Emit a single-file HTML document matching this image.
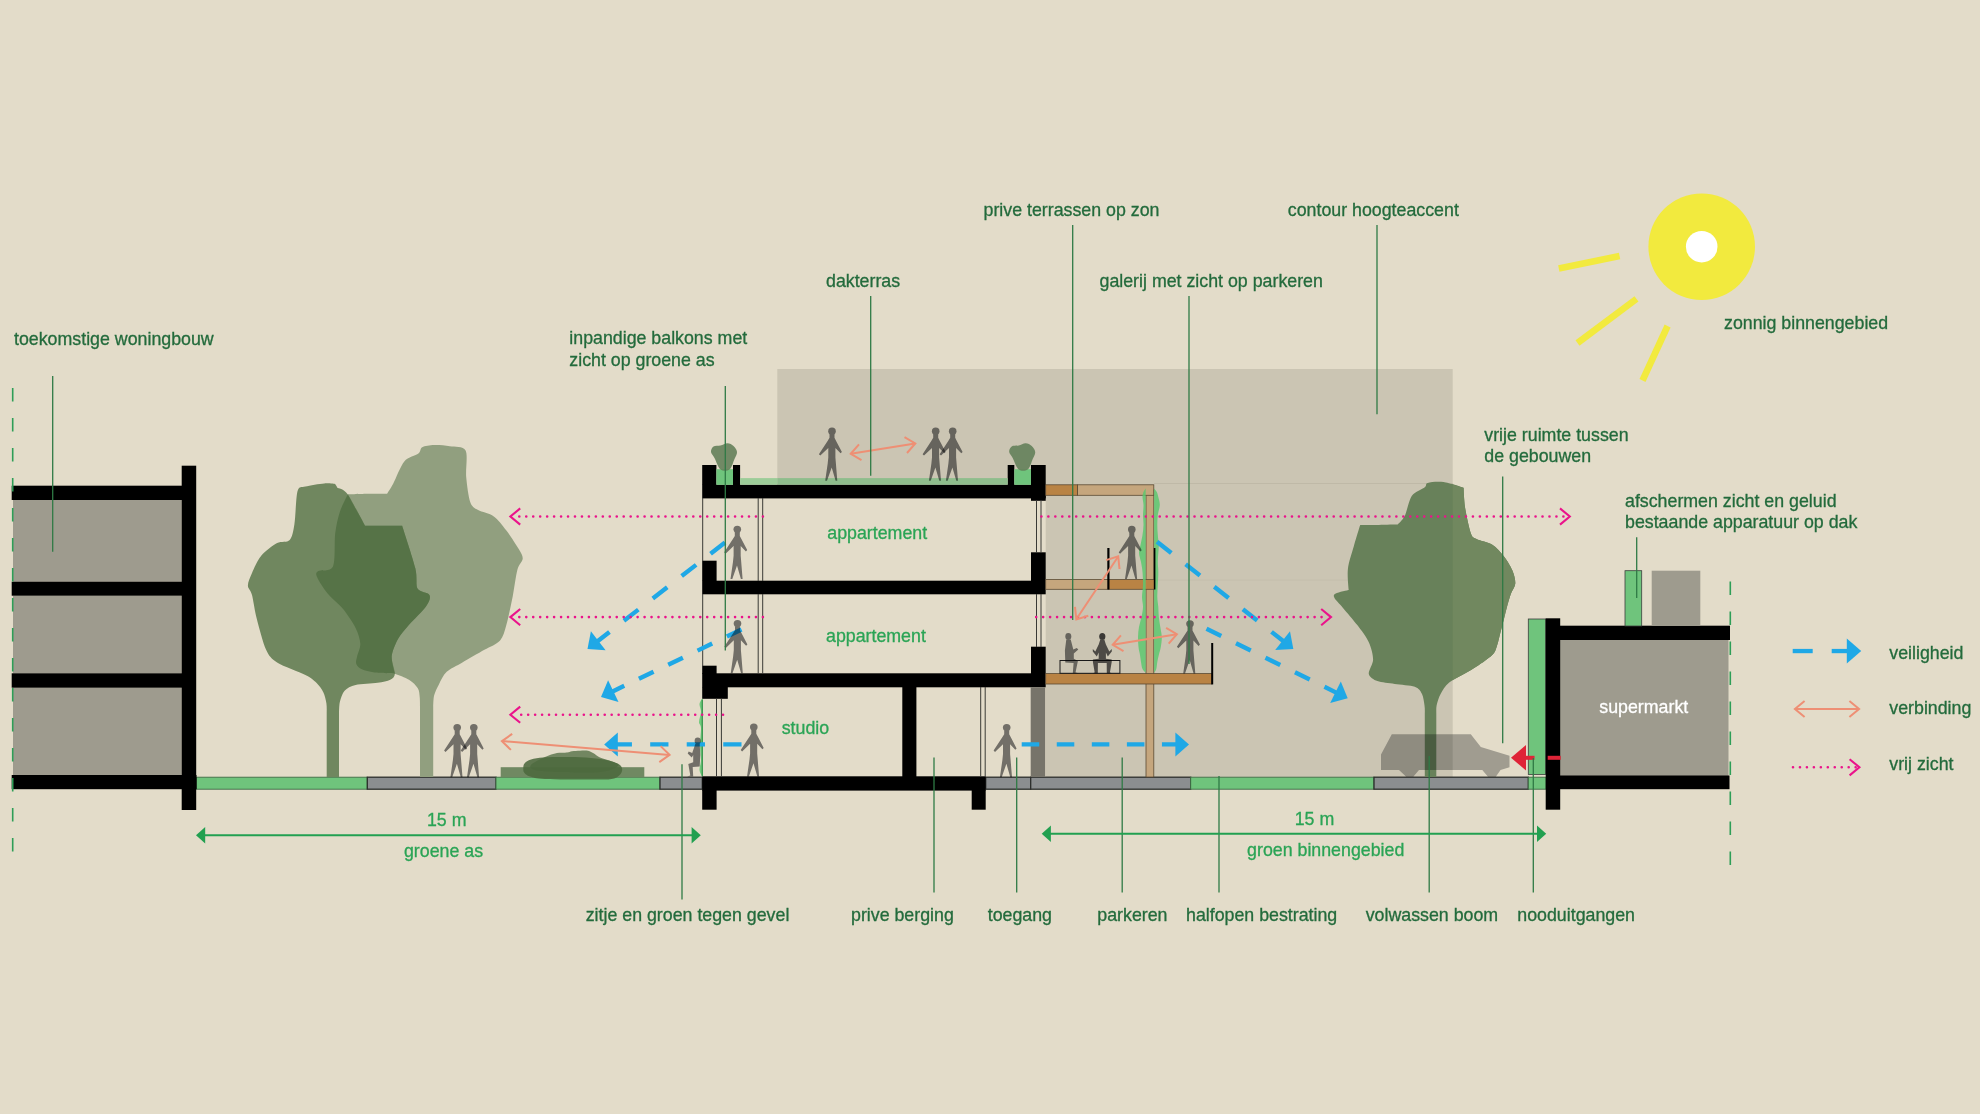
<!DOCTYPE html>
<html><head><meta charset="utf-8"><title>doorsnede</title>
<style>html,body{margin:0;padding:0;background:#e3dcc9;}body{width:1980px;height:1114px;overflow:hidden;}svg{display:block;}text{font-family:"Liberation Sans",sans-serif;}</style></head><body>
<svg width="1980" height="1114" viewBox="0 0 1980 1114">
<rect x="0" y="0" width="1980" height="1114" fill="#e3dcc9" />
<rect x="777.3" y="369" width="675.4" height="408" fill="#cbc5b3" />
<line x1="1154" y1="483.5" x2="1452.7" y2="483.5" stroke="#bfb9a7" stroke-width="1" />
<line x1="1154" y1="580" x2="1452.7" y2="580" stroke="#c4beac" stroke-width="1" />
<rect x="702.3" y="498" width="343.4" height="279" fill="#e3dcc9" />
<rect x="196.5" y="777.2" width="170.8" height="12" fill="#6fc47c" stroke="#3f6b45" stroke-width="0.9"/>
<rect x="367.3" y="777.2" width="128.7" height="12" fill="#8b8e90" stroke="#2c2e2c" stroke-width="1.3"/>
<rect x="496" y="777.2" width="164" height="12" fill="#6fc47c" stroke="#3f6b45" stroke-width="0.9"/>
<rect x="660" y="777.2" width="42.3" height="12" fill="#8b8e90" stroke="#2c2e2c" stroke-width="1.3"/>
<rect x="985.7" y="777.2" width="45" height="12" fill="#8b8e90" stroke="#2c2e2c" stroke-width="1.3"/>
<rect x="1030.7" y="777.2" width="160" height="12" fill="#8b8e90" stroke="#2c2e2c" stroke-width="1.3"/>
<rect x="1190.7" y="777.2" width="183.3" height="12" fill="#6fc47c" stroke="#3f6b45" stroke-width="0.9"/>
<rect x="1374" y="777.2" width="154.3" height="12" fill="#8b8e90" stroke="#2c2e2c" stroke-width="1.3"/>
<rect x="1528.3" y="777.2" width="17.7" height="12" fill="#6fc47c" stroke="#3f6b45" stroke-width="0.9"/>
<rect x="13" y="500" width="168.7" height="81.7" fill="#9e9b8e" />
<rect x="13" y="595.7" width="168.7" height="77.6" fill="#9e9b8e" />
<rect x="13" y="687.7" width="168.7" height="87.3" fill="#9e9b8e" />
<rect x="11.7" y="485.7" width="170.3" height="14.3" fill="#000000" />
<rect x="11.7" y="581.7" width="170.3" height="14" fill="#000000" />
<rect x="11.7" y="673.3" width="170.3" height="14.4" fill="#000000" />
<rect x="11.7" y="775" width="184.8" height="14.2" fill="#000000" />
<rect x="181.7" y="465.7" width="14.5" height="344.3" fill="#000000" />
<line x1="12.7" y1="388" x2="12.7" y2="858.5" stroke="#2e9e57" stroke-width="1.6" stroke-dasharray="13.5 16.5"/>
<line x1="1730.3" y1="581.5" x2="1730.3" y2="867" stroke="#2e9e57" stroke-width="1.6" stroke-dasharray="13.5 16.5"/>
<path d="M420,777 L420,706.4 C420,705 420,699.7 419.7,697 C419.4,694.2 419.4,690.8 417.8,688.2 C416.2,685.6 412.7,681.9 409,679.7 C405.3,677.5 398.5,674.5 393.3,673.4 C388.1,672.3 379.2,673.1 374.5,672.5 C369.8,671.8 364.6,670.6 361.9,669.3 C359.2,668 357,666 356.3,664 C355.5,662 356.6,659.2 357.2,656.1 C357.8,653.1 360.6,647.8 360.3,643.6 C360.1,639.3 358.2,633 355.6,627.9 C353,622.7 347.3,614.2 343.1,609 C338.8,603.8 331.2,598 327.4,593.3 C323.5,588.6 318.7,580.9 317.3,577.6 C315.9,574.3 315.6,573 317.9,571.3 C320.3,569.7 330.4,572.3 333,566.6 C335.6,561 334.2,541.9 335.2,533.6 C336.2,525.4 338,517.5 339.9,511.7 C341.8,505.8 347.8,494.4 347.8,494.4 C347.8,494.4 362.3,493.9 368.2,493.8 C374.1,493.7 387,493.8 387,493.8 C387,493.8 390.7,488.2 393.3,483.4 C395.9,478.5 400.5,465.9 404.3,461.4 C408.1,456.9 415.8,455.7 418.4,453.6 C421.1,451.4 419.9,448.5 422.2,447.3 C424.6,446 430,445.2 434.1,445.1 C438.3,444.9 445.1,445.5 449.8,446.3 C454.6,447.1 463.1,445.8 465.6,450.4 C468,455 465.5,469.3 466.2,477.1 C466.9,484.9 468.5,497.3 470.3,502.2 C472.1,507.2 474.6,508 478.1,510.1 C481.6,512.2 489.6,513.3 493.8,516.4 C498.1,519.4 502.6,525.6 506.4,530.5 C510.2,535.4 516.5,545.1 518.9,549.3 C521.4,553.6 522.9,555.7 522.7,558.8 C522.5,561.8 518.9,564.1 517.4,569.8 C515.9,575.4 514.3,588.2 512.7,596.5 C511,604.7 508.3,618.1 506.4,624.7 C504.5,631.3 503.4,636.7 500.1,640.4 C496.8,644.2 490.1,646.6 484.4,649.8 C478.7,653.1 468.1,659.1 462.4,662.4 C456.8,665.7 450.2,668.5 446.7,671.8 C443.2,675.1 440.7,680.9 438.9,684.4 C437,687.9 435,692.1 434.1,695.4 C433.3,698.7 433.3,704.7 433.2,706.4 L433.2,777Z" fill="#919f7f" />
<path d="M326.7,777 L326.7,712.7 C326.7,711.2 326.9,706.3 326.4,703.2 C325.9,700.2 324.8,695.3 323.3,692.2 C321.8,689.2 319.1,685.4 316.4,682.8 C313.7,680.2 311.3,678 305.4,675 C299.5,671.9 283,666.2 277.1,662.4 C271.2,658.6 269.2,656.4 266.1,649.8 C263.1,643.3 258.8,626.7 256.7,618.4 C254.6,610.2 253.3,599.8 252,594.9 C250.7,589.9 247.9,588.8 247.9,585.5 C247.9,582.2 250,577.4 252,572.9 C254,568.4 257.6,560.1 261.4,555.6 C265.2,551.2 272.9,545.4 277.1,543.1 C281.4,540.7 287.1,542.8 289.7,539.9 C292.3,537.1 293.2,531.5 294.4,524.2 C295.6,516.9 295.9,496.9 297.5,491.2 C299.2,485.6 301.4,487.7 305.4,486.5 C309.4,485.4 319.7,483.8 324.2,483.4 C328.7,483 335.2,484 335.2,484 C335.2,484 337.7,488.1 337.7,488.1 C337.7,488.1 343.7,488.7 347.8,494.4 C351.9,500 365.1,525.8 365.1,525.8 C365.1,525.8 378.3,525.8 383.9,525.8 C389.5,525.8 402.1,525.8 402.1,525.8 C402.1,525.8 413,558.8 415.3,568.2 C417.6,577.6 415.4,584.6 417.5,588.6 C419.6,592.6 428.1,592.3 429.4,594.9 C430.8,597.5 429.4,601.4 426.3,605.9 C423.2,610.4 413.3,619.8 409,624.7 C404.8,629.7 400.6,634.1 398,638.9 C395.4,643.6 392.2,650.9 391.7,656.1 C391.3,661.3 395.1,669.9 394.9,673.4 C394.7,676.9 392.8,678.3 390.2,679.7 C387.6,681.1 382.8,682 377.6,682.8 C372.4,683.6 360.6,683.8 355.6,685 C350.7,686.2 347,688.2 344.6,690.7 C342.3,693.2 340.8,698.4 339.9,701.7 C339.1,705 339.1,711 339,712.7 L339,777Z" fill="#70875f" />
<path d="M347.8,494.4 C347.8,494.4 365.1,525.8 365.1,525.8 C365.1,525.8 378.3,525.8 383.9,525.8 C389.5,525.8 402.1,525.8 402.1,525.8 C402.1,525.8 413,558.8 415.3,568.2 C417.6,577.6 415.4,584.6 417.5,588.6 C419.6,592.6 428.1,592.3 429.4,594.9 C430.8,597.5 429.4,601.4 426.3,605.9 C423.2,610.4 413.3,619.8 409,624.7 C404.8,629.7 400.6,634.1 398,638.9 C395.4,643.6 392.2,650.9 391.7,656.1 C391.3,661.3 394.9,673.4 394.9,673.4 C394.9,673.4 379.4,673.1 374.5,672.5 C369.5,671.8 364.6,670.6 361.9,669.3 C359.2,668 357,666 356.3,664 C355.5,662 356.6,659.2 357.2,656.1 C357.8,653.1 360.6,647.8 360.3,643.6 C360.1,639.3 358.2,633 355.6,627.9 C353,622.7 347.3,614.2 343.1,609 C338.8,603.8 331.2,598 327.4,593.3 C323.5,588.6 318.7,580.9 317.3,577.6 C315.9,574.3 315.6,573 317.9,571.3 C320.3,569.7 330.4,572.3 333,566.6 C335.6,561 334.2,541.9 335.2,533.6 C336.2,525.4 338,517.5 339.9,511.7 C341.8,505.8 347.8,494.4 347.8,494.4Z" fill="#567347"/>
<rect x="500.7" y="767.2" width="143.6" height="10.1" fill="#708962" />
<path d="M523.3,769 C523.3,767.4 523.2,765.1 524.5,763.5 C525.8,761.9 527.9,760.6 531,759.6 C534.1,758.6 538.8,758 543,757.6 C547.2,757.2 550.7,757.1 556,757 C561.3,756.9 568.3,756.8 575,757 C581.7,757.2 589.8,757.8 596,758.5 C602.2,759.2 607.9,760.3 612,761.5 C616.1,762.7 618.8,763.9 620.5,765.5 C622.2,767.1 622.4,769.2 622,771 C621.6,772.8 620,775.1 618,776.5 C616,777.9 614.7,778.8 610,779.3 C605.3,779.8 600.8,779.5 590,779.5 C579.2,779.5 555,779.5 545,779 C535,778.5 533.4,777.5 530,776.5 C526.6,775.5 525.6,774.2 524.5,773 C523.4,771.8 523.3,770.6 523.3,769Z" fill="#4c693e" opacity="0.88"/>
<path d="M531,765 C532.7,762.8 540.7,759 545,757 C549.3,755 553.3,753.7 557,753 C560.7,752.3 564.5,752.9 567,752.6 C569.5,752.3 569.8,751.5 572,751.2 C574.2,750.9 577.3,750.8 580,750.7 C582.7,750.6 585.7,750.3 588,750.8 C590.3,751.3 592,752.4 594,753.5 C596,754.6 597,756.2 600,757.5 C603,758.8 609,760.1 612,761.5 C615,762.9 620,764.2 618,766 C616,767.8 609.7,771 600,772 C590.3,773 570.8,772.3 560,772 C549.2,771.7 539.8,771.2 535,770 C530.2,768.8 529.3,767.2 531,765Z" fill="#4c693e" opacity="0.75"/>
<path d="M1424.8,777 L1424.8,714.1 C1424.8,712.8 1425,708.5 1424.5,705.5 C1424.1,702.5 1423.4,696.8 1422,694 C1420.5,691.2 1418.9,688.3 1414.8,686.8 C1410.7,685.3 1400.3,684.8 1394.7,684 C1389.1,683.1 1381.3,682.6 1377.4,681.1 C1373.6,679.6 1369.5,677.1 1368.8,673.9 C1368.2,670.7 1373.1,664.3 1373.1,659.5 C1373.1,654.8 1371.2,647.5 1368.8,642.3 C1366.5,637.1 1361.2,630.3 1357.3,625.1 C1353.5,619.9 1346.4,611.9 1343,607.9 C1339.5,603.8 1335.4,600 1334.4,597.8 C1333.3,595.6 1333.6,594.7 1335.8,593.5 C1337.9,592.3 1348.7,590 1348.7,590 C1348.7,590 1347.1,575.7 1347.9,569.1 C1348.6,562.5 1352,552.7 1353.9,546.1 C1355.7,539.5 1360.2,525.1 1360.2,525.1 C1360.2,525.1 1373.3,524.9 1378.9,524.9 C1384.5,524.8 1397.5,524.6 1397.5,524.6 C1397.5,524.6 1402.6,520.3 1404.7,516 C1406.9,511.6 1408.9,500.2 1411.9,495.8 C1414.9,491.5 1422.5,489.2 1424.8,487.2 C1427.2,485.3 1424.9,483.7 1427.7,482.9 C1430.5,482.1 1438.1,481.3 1443.5,482.1 C1448.9,482.8 1463.6,487.8 1463.6,487.8 C1463.6,487.8 1464,500.5 1465,507.3 C1466.1,514.1 1469.1,528.4 1470.8,533.2 C1472.5,537.9 1473.3,537.2 1476.5,538.9 C1479.8,540.6 1488.2,542.1 1492.3,544.7 C1496.4,547.3 1500.8,552.3 1503.8,556.2 C1506.8,560 1510.7,566.4 1512.4,570.5 C1514.1,574.6 1515.5,580 1515.3,583.4 C1515.1,586.9 1512.3,589.8 1511,593.5 C1509.7,597.2 1508.2,602.3 1506.7,607.9 C1505.2,613.5 1502.7,624.4 1500.9,630.8 C1499.2,637.3 1497.3,646.6 1495.2,650.9 C1493,655.2 1490.4,656.5 1486.6,659.5 C1482.7,662.6 1474.9,667.6 1469.3,671 C1463.7,674.5 1453.5,679.1 1449.2,682.5 C1444.9,686 1442.5,690.6 1440.6,694 C1438.7,697.5 1437.2,702.5 1436.6,705.5 C1436,708.5 1436.4,712.8 1436.3,714.1 L1436.3,777Z" fill="#68815a" />
<clipPath id="cl1"><rect x="1452.7" y="400" width="120" height="400"/></clipPath>
<path d="M1424.8,777 L1424.8,714.1 C1424.8,712.8 1425,708.5 1424.5,705.5 C1424.1,702.5 1423.4,696.8 1422,694 C1420.5,691.2 1418.9,688.3 1414.8,686.8 C1410.7,685.3 1400.3,684.8 1394.7,684 C1389.1,683.1 1381.3,682.6 1377.4,681.1 C1373.6,679.6 1369.5,677.1 1368.8,673.9 C1368.2,670.7 1373.1,664.3 1373.1,659.5 C1373.1,654.8 1371.2,647.5 1368.8,642.3 C1366.5,637.1 1361.2,630.3 1357.3,625.1 C1353.5,619.9 1346.4,611.9 1343,607.9 C1339.5,603.8 1335.4,600 1334.4,597.8 C1333.3,595.6 1333.6,594.7 1335.8,593.5 C1337.9,592.3 1348.7,590 1348.7,590 C1348.7,590 1347.1,575.7 1347.9,569.1 C1348.6,562.5 1352,552.7 1353.9,546.1 C1355.7,539.5 1360.2,525.1 1360.2,525.1 C1360.2,525.1 1373.3,524.9 1378.9,524.9 C1384.5,524.8 1397.5,524.6 1397.5,524.6 C1397.5,524.6 1402.6,520.3 1404.7,516 C1406.9,511.6 1408.9,500.2 1411.9,495.8 C1414.9,491.5 1422.5,489.2 1424.8,487.2 C1427.2,485.3 1424.9,483.7 1427.7,482.9 C1430.5,482.1 1438.1,481.3 1443.5,482.1 C1448.9,482.8 1463.6,487.8 1463.6,487.8 C1463.6,487.8 1464,500.5 1465,507.3 C1466.1,514.1 1469.1,528.4 1470.8,533.2 C1472.5,537.9 1473.3,537.2 1476.5,538.9 C1479.8,540.6 1488.2,542.1 1492.3,544.7 C1496.4,547.3 1500.8,552.3 1503.8,556.2 C1506.8,560 1510.7,566.4 1512.4,570.5 C1514.1,574.6 1515.5,580 1515.3,583.4 C1515.1,586.9 1512.3,589.8 1511,593.5 C1509.7,597.2 1508.2,602.3 1506.7,607.9 C1505.2,613.5 1502.7,624.4 1500.9,630.8 C1499.2,637.3 1497.3,646.6 1495.2,650.9 C1493,655.2 1490.4,656.5 1486.6,659.5 C1482.7,662.6 1474.9,667.6 1469.3,671 C1463.7,674.5 1453.5,679.1 1449.2,682.5 C1444.9,686 1442.5,690.6 1440.6,694 C1438.7,697.5 1437.2,702.5 1436.6,705.5 C1436,708.5 1436.4,712.8 1436.3,714.1 L1436.3,777Z" fill="#71885f" clip-path="url(#cl1)"/>
<rect x="702.2" y="484.7" width="343.5" height="13.7" fill="#000000" />
<rect x="1031" y="484.7" width="14.7" height="16.1" fill="#000000" />
<rect x="702.2" y="465" width="14.2" height="20" fill="#000000" />
<rect x="733" y="465" width="7.1" height="20" fill="#000000" />
<rect x="1007.7" y="465" width="6.6" height="20" fill="#000000" />
<rect x="1031" y="465" width="14.7" height="20" fill="#000000" />
<rect x="716.4" y="469.2" width="16.6" height="15.6" fill="#6fc47c" />
<rect x="1014.3" y="469.2" width="16.7" height="15.6" fill="#6fc47c" />
<rect x="740.1" y="478.1" width="37.2" height="6.6" fill="#9ccc98" />
<rect x="777.3" y="478.1" width="230.4" height="6.6" fill="#8ebd8c" />
<rect x="702.2" y="580.7" width="343.5" height="13.6" fill="#000000" />
<rect x="702.2" y="560.7" width="14.4" height="20.3" fill="#000000" />
<rect x="1031" y="552.3" width="14.7" height="28.7" fill="#000000" />
<rect x="702.2" y="673.3" width="343.5" height="14" fill="#000000" />
<rect x="702.2" y="665.7" width="14.4" height="8.3" fill="#000000" />
<rect x="702.2" y="687" width="25.6" height="11.8" fill="#000000" />
<rect x="1031" y="646.7" width="14.7" height="27.3" fill="#000000" />
<rect x="702.2" y="776.3" width="283.5" height="14.3" fill="#000000" />
<rect x="702.2" y="790" width="14.4" height="19.7" fill="#000000" />
<rect x="971.7" y="790" width="14" height="19.7" fill="#000000" />
<rect x="902.3" y="687" width="14.1" height="90" fill="#000000" />
<rect x="1030.7" y="687.3" width="14.5" height="89.7" fill="#77746a" />
<line x1="702.7" y1="498" x2="702.7" y2="561" stroke="#3a3a36" stroke-width="1" />
<line x1="702.7" y1="594" x2="702.7" y2="666" stroke="#3a3a36" stroke-width="1" />
<line x1="758.2" y1="498" x2="758.2" y2="581" stroke="#3a3a36" stroke-width="1" />
<line x1="758.2" y1="594" x2="758.2" y2="673.5" stroke="#3a3a36" stroke-width="1" />
<line x1="762.7" y1="498" x2="762.7" y2="581" stroke="#3a3a36" stroke-width="1" />
<line x1="762.7" y1="594" x2="762.7" y2="673.5" stroke="#3a3a36" stroke-width="1" />
<line x1="1036.5" y1="500" x2="1036.5" y2="553" stroke="#3a3a36" stroke-width="1" />
<line x1="1036.5" y1="594" x2="1036.5" y2="647" stroke="#3a3a36" stroke-width="1" />
<line x1="1041" y1="500" x2="1041" y2="553" stroke="#3a3a36" stroke-width="1" />
<line x1="1041" y1="594" x2="1041" y2="647" stroke="#3a3a36" stroke-width="1" />
<line x1="716.5" y1="698.5" x2="716.5" y2="776.5" stroke="#3a3a36" stroke-width="1" />
<line x1="721.4" y1="698.5" x2="721.4" y2="776.5" stroke="#3a3a36" stroke-width="1" />
<line x1="980.7" y1="687" x2="980.7" y2="776.5" stroke="#3a3a36" stroke-width="1" />
<line x1="985.2" y1="687" x2="985.2" y2="776.5" stroke="#3a3a36" stroke-width="1" />
<rect x="1146" y="490" width="7.8" height="287" fill="#c5a67d" stroke="#5a4a33" stroke-width="0.8"/>
<rect x="1077.5" y="484.8" width="76.3" height="10.5" fill="#c5a67d" stroke="#5a4a33" stroke-width="0.8"/>
<rect x="1045.7" y="484.8" width="31.8" height="10.5" fill="#b98344" stroke="#5a4a33" stroke-width="0.8"/>
<rect x="1045.7" y="579.6" width="62.7" height="9.7" fill="#c5a67d" stroke="#5a4a33" stroke-width="0.8"/>
<rect x="1108.4" y="579.6" width="46" height="9.7" fill="#b98344" stroke="#5a4a33" stroke-width="0.8"/>
<rect x="1045.7" y="673.6" width="166.3" height="10.4" fill="#b98344" stroke="#5a4a33" stroke-width="0.8"/>
<line x1="1212.2" y1="643" x2="1212.2" y2="684.4" stroke="#000000" stroke-width="2" />
<path d="M1145.7,488.5 C1145.3,489.1 1144,490.6 1143.5,492 C1143,493.4 1142.5,494.8 1142.5,497 C1142.5,499.2 1143.4,502 1143.5,505 C1143.6,508 1143,511.7 1143,515 C1143,518.3 1143.6,521.7 1143.5,525 C1143.4,528.3 1143,531.7 1142.5,535 C1142,538.3 1141.1,542 1140.5,545 C1139.9,548 1138.9,550.2 1139,553 C1139.1,555.8 1140.4,558.8 1141,562 C1141.6,565.2 1142.2,568.2 1142.5,572 C1142.8,575.8 1143.1,580.8 1143,585 C1142.9,589.2 1142,593.3 1142,597 C1142,600.7 1143.1,603.7 1143,607 C1142.9,610.3 1142.2,613.7 1141.5,617 C1140.8,620.3 1139.6,623.7 1139,627 C1138.4,630.3 1138.1,633.7 1138,637 C1137.9,640.3 1138.2,644 1138.5,647 C1138.8,650 1139.6,652.5 1140,655 C1140.4,657.5 1140.6,659.7 1141,662 C1141.4,664.3 1141.7,667.2 1142.5,669 C1143.3,670.8 1145.2,672.2 1145.7,672.8Z" fill="#5ec76e" opacity="0.85"/>
<path d="M1154.1,488.5 C1154.5,489.1 1156.1,490.6 1156.8,492 C1157.5,493.4 1157.8,494.8 1158.3,497 C1158.8,499.2 1159.9,502 1159.8,505 C1159.7,508 1158.2,511.7 1157.8,515 C1157.4,518.3 1157.3,521.7 1157.3,525 C1157.3,528.3 1157.5,531.7 1157.8,535 C1158,538.3 1158.7,542 1158.8,545 C1158.9,548 1158.5,550.2 1158.3,553 C1158.1,555.8 1157.8,558.8 1157.8,562 C1157.8,565.2 1158.3,568.2 1158.3,572 C1158.3,575.8 1158,580.8 1157.8,585 C1157.6,589.2 1157.2,593.3 1157.3,597 C1157.4,600.7 1158,603.7 1158.3,607 C1158.5,610.3 1158.5,613.7 1158.8,617 C1159.1,620.3 1159.8,623.7 1160.3,627 C1160.8,630.3 1161.7,633.7 1161.8,637 C1161.9,640.3 1161.3,644 1160.8,647 C1160.3,650 1159.4,652.5 1158.8,655 C1158.2,657.5 1157.7,659.7 1157.3,662 C1156.9,664.3 1156.8,667.2 1156.3,669 C1155.8,670.8 1154.5,672.2 1154.1,672.8Z" fill="#5ec76e" opacity="0.85"/>
<line x1="1108.4" y1="548" x2="1108.4" y2="589.5" stroke="#000000" stroke-width="2.2" />
<line x1="1154.6" y1="548" x2="1154.6" y2="589.5" stroke="#000000" stroke-width="1.6" />
<rect x="1060" y="660.5" width="59.9" height="12.8" fill="none" stroke="#1a1a1a" stroke-width="1"/>
<rect x="1560" y="640" width="168.5" height="136" fill="#9e9b8e" />
<rect x="1528.3" y="619" width="17.4" height="155.5" fill="#6fc47c" stroke="#3c3f3c" stroke-width="0.8"/>
<rect x="1545.7" y="618.3" width="14.5" height="191.4" fill="#000000" />
<rect x="1560" y="625.7" width="170" height="14.3" fill="#000000" />
<rect x="1560" y="775.5" width="169.5" height="13.7" fill="#000000" />
<rect x="1625" y="570.7" width="16.7" height="55.3" fill="#6fc47c" stroke="#3c3f3c" stroke-width="0.8"/>
<rect x="1651.7" y="570.7" width="48.6" height="55.3" fill="#9e9b8e" />
<path d="M1381,770 L1381,754.5 L1391.8,734.2 L1470.8,734.2 L1480.8,747 L1509.5,755.8 L1509.5,767.2 L1500.5,770 L1495.8,776.7 L1488,776.7 L1482.3,770 L1419,770 L1413.3,776.7 L1406.2,776.7 L1399,770 Z" fill="#b4b5b7" style="mix-blend-mode:multiply"/>
<polygon points="1511,757.7 1526,745 1526,770.5" fill="#df2437"/>
<rect x="1525" y="755.8" width="9.5" height="4" fill="#df2437" />
<rect x="1547.7" y="755.8" width="13" height="4" fill="#df2437" />
<path d="M720.5,469.5 C718,467.6 716.1,460.9 714.5,458 C712.9,455.1 711.2,453.9 711,452 C710.8,450.1 711.9,447.6 713.5,446.5 C715.1,445.4 718.2,446 720.5,445.5 C722.8,445 725.3,443.2 727.5,443.3 C729.7,443.4 731.9,444.6 733.5,446 C735.1,447.4 736.8,449.8 737,452 C737.2,454.2 735.8,456.1 734.5,459 C733.2,461.9 731.8,467.8 729.5,469.5 C727.2,471.2 723,471.4 720.5,469.5Z" fill="#64805a" opacity="0.9"/>
<path d="M1018.7,469.5 C1016.2,467.6 1014.3,460.9 1012.7,458 C1011.1,455.1 1009.4,453.9 1009.2,452 C1009,450.1 1010.1,447.6 1011.7,446.5 C1013.3,445.4 1016.4,446 1018.7,445.5 C1021,445 1023.5,443.2 1025.7,443.3 C1027.9,443.4 1030.1,444.6 1031.7,446 C1033.3,447.4 1035,449.8 1035.2,452 C1035.4,454.2 1034,456.1 1032.7,459 C1031.5,461.9 1030,467.8 1027.7,469.5 C1025.4,471.2 1021.2,471.4 1018.7,469.5Z" fill="#64805a" opacity="0.9"/>
<path d="M702,699 C701.6,699.8 699.7,701.8 699.5,704 C699.3,706.2 701.1,709 701,712 C700.9,715 699,719.3 699,722 C699,724.7 700.8,724.2 701,728 C701.2,731.8 700,739.7 700,745 C700,750.3 701.1,755.8 701,760 C700.9,764.2 699.3,767.3 699.5,770 C699.7,772.7 701.6,775 702,776 L702.6,776 L702.6,699Z" fill="#5ec76e" opacity="0.85"/>
<line x1="702.3" y1="699.4" x2="702.3" y2="776.3" stroke="#3f9a52" stroke-width="1.4" />
<line x1="725" y1="542.5" x2="595" y2="643.2" stroke="#1fa8e6" stroke-width="4.4" stroke-dasharray="18.27 18.27"/>
<polygon points="587.5,649 590.9,631.2 605.6,650.2" fill="#1fa8e6"/>
<line x1="741.5" y1="629.5" x2="609.6" y2="692.9" stroke="#1fa8e6" stroke-width="4.4" stroke-dasharray="16.26 16.26"/>
<polygon points="601,697 608.1,680.3 618.5,701.9" fill="#1fa8e6"/>
<line x1="741.5" y1="744.4" x2="613.7" y2="744.4" stroke="#1fa8e6" stroke-width="4.4" stroke-dasharray="18.26 18.26"/>
<polygon points="604.2,744.4 617.8,732.4 617.8,756.4" fill="#1fa8e6"/>
<line x1="1021.7" y1="744.4" x2="1179.5" y2="744.4" stroke="#1fa8e6" stroke-width="4.4" stroke-dasharray="17.53 17.53"/>
<polygon points="1189,744.4 1175.4,756.4 1175.4,732.4" fill="#1fa8e6"/>
<line x1="1157" y1="541.7" x2="1285.8" y2="643.1" stroke="#1fa8e6" stroke-width="4.4" stroke-dasharray="18.22 18.22"/>
<polygon points="1293.3,649 1275.2,650 1290,631.2" fill="#1fa8e6"/>
<line x1="1206.5" y1="628.7" x2="1339.2" y2="694.1" stroke="#1fa8e6" stroke-width="4.4" stroke-dasharray="16.44 16.44"/>
<polygon points="1347.7,698.3 1330.2,703.1 1340.8,681.5" fill="#1fa8e6"/>
<g fill="#808184" style="mix-blend-mode:multiply"><ellipse cx="832" cy="431.2" rx="3.8" ry="3.6"/><path d="M829.5,433.9 L829.5,437.8 L827.6,440.9 L818.9,454.2 L820.3,455.6 L828.3,447.9 L828.3,457.6 L827.7,463.6 L825.2,480.8 L827,480.8 L831.7,467.4 L835.6,480.8 L837.3,480.8 L835.9,463.6 L835.4,457.6 L835.4,447.9 L840.6,453.3 L841.9,452 L836.1,440.9 L834.5,437.8 L834.5,433.9Z"/></g>
<g fill="#808184" style="mix-blend-mode:multiply"><ellipse cx="935.7" cy="431.2" rx="3.8" ry="3.6"/><path d="M933.2,433.9 L933.2,437.8 L931.3,440.9 L922.6,454.2 L924,455.6 L932,447.9 L932,457.6 L931.4,463.6 L928.9,480.8 L930.7,480.8 L935.4,467.4 L939.3,480.8 L941,480.8 L939.6,463.6 L939.1,457.6 L939.1,447.9 L944.3,453.3 L945.6,452 L939.8,440.9 L938.2,437.8 L938.2,433.9Z"/></g>
<g fill="#808184" style="mix-blend-mode:multiply"><ellipse cx="952.7" cy="431.2" rx="3.8" ry="3.6"/><path d="M950.2,433.9 L950.2,437.8 L948.3,440.9 L939.6,454.2 L941,455.6 L949,447.9 L949,457.6 L948.4,463.6 L945.9,480.8 L947.7,480.8 L952.4,467.4 L956.3,480.8 L958,480.8 L956.6,463.6 L956.1,457.6 L956.1,447.9 L961.3,453.3 L962.6,452 L956.8,440.9 L955.2,437.8 L955.2,433.9Z"/></g>
<g fill="#808184" style="mix-blend-mode:multiply"><ellipse cx="737.3" cy="529.3" rx="3.8" ry="3.6"/><path d="M734.8,532 L734.8,535.9 L732.9,539 L724.2,552.3 L725.6,553.7 L733.6,546 L733.6,555.7 L733,561.7 L730.5,578.9 L732.3,578.9 L737,565.5 L740.9,578.9 L742.6,578.9 L741.2,561.7 L740.7,555.7 L740.7,546 L745.9,551.4 L747.2,550.1 L741.4,539 L739.8,535.9 L739.8,532Z"/></g>
<g fill="#808184" style="mix-blend-mode:multiply"><ellipse cx="737.5" cy="623.6" rx="3.8" ry="3.6"/><path d="M735,626.3 L735,630.2 L733.1,633.3 L724.4,646.6 L725.8,648 L733.8,640.3 L733.8,650 L733.2,656 L730.7,673.2 L732.5,673.2 L737.2,659.8 L741.1,673.2 L742.8,673.2 L741.4,656 L740.9,650 L740.9,640.3 L746.1,645.7 L747.4,644.4 L741.6,633.3 L740,630.2 L740,626.3Z"/></g>
<g fill="#808184" style="mix-blend-mode:multiply"><ellipse cx="753.8" cy="727.1" rx="3.8" ry="3.6"/><path d="M751.3,729.8 L751.3,733.7 L749.4,736.8 L740.7,750.1 L742.1,751.5 L750.1,743.8 L750.1,753.5 L749.5,759.5 L747,776.7 L748.8,776.7 L753.5,763.3 L757.4,776.7 L759.1,776.7 L757.7,759.5 L757.2,753.5 L757.2,743.8 L762.4,749.2 L763.7,747.9 L757.9,736.8 L756.3,733.7 L756.3,729.8Z"/></g>
<g fill="#808184" style="mix-blend-mode:multiply"><ellipse cx="1006.7" cy="727.6" rx="3.8" ry="3.6"/><path d="M1004.2,730.3 L1004.2,734.2 L1002.3,737.3 L993.6,750.6 L995,752 L1003,744.3 L1003,754 L1002.4,760 L999.9,777.2 L1001.7,777.2 L1006.4,763.8 L1010.3,777.2 L1012,777.2 L1010.6,760 L1010.1,754 L1010.1,744.3 L1015.3,749.7 L1016.6,748.4 L1010.8,737.3 L1009.2,734.2 L1009.2,730.3Z"/></g>
<g fill="#808184" style="mix-blend-mode:multiply"><ellipse cx="457.2" cy="727.6" rx="3.8" ry="3.6"/><path d="M454.7,730.3 L454.7,734.2 L452.8,737.3 L444.1,750.6 L445.5,752 L453.5,744.3 L453.5,754 L452.9,760 L450.4,777.2 L452.2,777.2 L456.9,763.8 L460.8,777.2 L462.5,777.2 L461.1,760 L460.6,754 L460.6,744.3 L465.8,749.7 L467.1,748.4 L461.3,737.3 L459.7,734.2 L459.7,730.3Z"/></g>
<g fill="#808184" style="mix-blend-mode:multiply"><ellipse cx="473.8" cy="727.6" rx="3.8" ry="3.6"/><path d="M471.3,730.3 L471.3,734.2 L469.4,737.3 L460.7,750.6 L462.1,752 L470.1,744.3 L470.1,754 L469.5,760 L467,777.2 L468.8,777.2 L473.5,763.8 L477.4,777.2 L479.1,777.2 L477.7,760 L477.2,754 L477.2,744.3 L482.4,749.7 L483.7,748.4 L477.9,737.3 L476.3,734.2 L476.3,730.3Z"/></g>
<g fill="#808184" style="mix-blend-mode:multiply"><ellipse cx="1131.8" cy="529.4" rx="3.8" ry="3.6"/><path d="M1129.3,532.1 L1129.3,536 L1127.4,539.1 L1118.7,552.4 L1120.1,553.8 L1128.1,546.1 L1128.1,555.8 L1127.5,561.8 L1125,579 L1126.8,579 L1131.5,565.6 L1135.4,579 L1137.1,579 L1135.7,561.8 L1135.2,555.8 L1135.2,546.1 L1140.4,551.5 L1141.7,550.2 L1135.9,539.1 L1134.3,536 L1134.3,532.1Z"/></g>
<g fill="#808184" style="mix-blend-mode:multiply"><ellipse cx="1190" cy="623.8" rx="3.8" ry="3.6"/><path d="M1187.5,626.5 L1187.5,630.4 L1185.6,633.5 L1176.9,646.8 L1178.3,648.2 L1186.3,640.5 L1186.3,650.2 L1185.7,656.2 L1183.2,673.4 L1185,673.4 L1189.7,660 L1193.6,673.4 L1195.3,673.4 L1193.9,656.2 L1193.4,650.2 L1193.4,640.5 L1198.6,645.9 L1199.9,644.6 L1194.1,633.5 L1192.5,630.4 L1192.5,626.5Z"/></g>
<g fill="#808184" style="mix-blend-mode:multiply"><ellipse cx="1068.3" cy="636.5" rx="3" ry="3.4"/><path d="M1066.3,639.5 L1070.7,639.5 L1073.3,649.5 L1076.8,648 L1078.3,649.5 L1073.8,653.5 L1073.8,658.8 L1077.9,660.9 L1075.5,672.5 L1078.8,673.3 L1072.8,673.3 L1073.6,663 L1065.3,662.5 L1064.9,650.5 Z"/></g>
<g fill="#606062" style="mix-blend-mode:multiply"><ellipse cx="1102.3" cy="636.5" rx="3.1" ry="3.5" fill="#4a4a4c"/><path d="M1100.3,639.5 L1104.3,639.5 L1105.9,644.5 L1109.3,651.5 L1111.8,649 L1111.8,651.5 L1107.8,656.5 L1105.9,652.5 L1105.9,658.7 L1111.7,659.5 L1111.7,662 L1109.9,672.5 L1111.8,673.3 L1106.8,673.3 L1106.7,663 L1097.9,663 L1097.8,673.3 L1092.8,673.3 L1094.7,672.5 L1092.9,662 L1092.9,659.5 L1098.7,658.7 L1098.7,652.5 L1096.8,656.5 L1092.8,651.5 L1092.8,649 L1095.3,651.5 L1098.7,644.5 Z"/></g>
<g fill="#808184" style="mix-blend-mode:multiply"><ellipse cx="697.7" cy="741" rx="3.1" ry="3.4"/><path d="M699.7,744 L695.3,744 L692.2,753 L688.7,751.5 L687.7,753.5 L691.7,757.5 L693.2,755 L693.2,762.3 L688.3,764 L690.3,775.5 L687.2,776.6 L693.2,776.6 L692.7,767 L699.7,766.5 L700.3,755 Z"/></g>
<line x1="519.3" y1="516.5" x2="762.92" y2="516.5" stroke="#ea138b" stroke-width="2.6" stroke-linecap="round" stroke-dasharray="0.01 6.95"/>
<line x1="1041.4" y1="516.5" x2="1563.42" y2="516.5" stroke="#ea138b" stroke-width="2.6" stroke-linecap="round" stroke-dasharray="0.01 6.95"/>
<line x1="519.3" y1="617.1" x2="762.92" y2="617.1" stroke="#ea138b" stroke-width="2.6" stroke-linecap="round" stroke-dasharray="0.01 6.95"/>
<line x1="1036.2" y1="617.1" x2="1321.58" y2="617.1" stroke="#ea138b" stroke-width="2.6" stroke-linecap="round" stroke-dasharray="0.01 6.95"/>
<line x1="521.2" y1="714.7" x2="723.06" y2="714.7" stroke="#ea138b" stroke-width="2.6" stroke-linecap="round" stroke-dasharray="0.01 6.95"/>
<polyline points="520.2,524.6 510.4,516.5 520.2,508.4" fill="none" stroke="#ea138b" stroke-width="2.1" stroke-linejoin="miter"/>
<polyline points="520.2,625.2 510.4,617.1 520.2,609" fill="none" stroke="#ea138b" stroke-width="2.1" stroke-linejoin="miter"/>
<polyline points="520.2,722.8 510.4,714.7 520.2,706.6" fill="none" stroke="#ea138b" stroke-width="2.1" stroke-linejoin="miter"/>
<polyline points="1560,508.4 1569.8,516.5 1560,524.6" fill="none" stroke="#ea138b" stroke-width="2.1" stroke-linejoin="miter"/>
<polyline points="1321.2,609 1331,617.1 1321.2,625.2" fill="none" stroke="#ea138b" stroke-width="2.1" stroke-linejoin="miter"/>
<line x1="850.8" y1="453.8" x2="915.2" y2="443.5" stroke="#ee8f74" stroke-width="2.0" />
<polyline points="904.5,437.1 915.3,443.5 907,453" fill="none" stroke="#ee8f74" stroke-width="2.0" stroke-linejoin="miter"/>
<polyline points="861.5,460.2 850.7,453.8 859,444.3" fill="none" stroke="#ee8f74" stroke-width="2.0" stroke-linejoin="miter"/>
<line x1="502" y1="741.1" x2="669.5" y2="754.9" stroke="#ee8f74" stroke-width="2.0" />
<polyline points="660.6,746.1 669.6,754.9 659.3,762.1" fill="none" stroke="#ee8f74" stroke-width="2.0" stroke-linejoin="miter"/>
<polyline points="510.9,749.9 501.9,741.1 512.2,733.9" fill="none" stroke="#ee8f74" stroke-width="2.0" stroke-linejoin="miter"/>
<line x1="1076.3" y1="619.3" x2="1118.2" y2="556.5" stroke="#ee8f74" stroke-width="2.0" />
<polyline points="1106.2,560.1 1118.2,556.4 1119.5,569" fill="none" stroke="#ee8f74" stroke-width="2.0" stroke-linejoin="miter"/>
<polyline points="1088.3,615.7 1076.3,619.4 1075,606.8" fill="none" stroke="#ee8f74" stroke-width="2.0" stroke-linejoin="miter"/>
<line x1="1112.8" y1="644.8" x2="1176.8" y2="634.2" stroke="#ee8f74" stroke-width="2.0" />
<polyline points="1166.1,627.9 1176.9,634.2 1168.7,643.7" fill="none" stroke="#ee8f74" stroke-width="2.0" stroke-linejoin="miter"/>
<polyline points="1123.5,651.1 1112.7,644.8 1120.9,635.3" fill="none" stroke="#ee8f74" stroke-width="2.0" stroke-linejoin="miter"/>
<line x1="52.7" y1="376" x2="52.7" y2="551.7" stroke="#2f7a45" stroke-width="1.3" />
<line x1="725.3" y1="386" x2="725.3" y2="650.5" stroke="#2f7a45" stroke-width="1.3" />
<line x1="870.7" y1="296" x2="870.7" y2="475.7" stroke="#2f7a45" stroke-width="1.3" />
<line x1="1072.7" y1="225" x2="1072.7" y2="620" stroke="#2f7a45" stroke-width="1.3" />
<line x1="1189" y1="296" x2="1189" y2="664" stroke="#2f7a45" stroke-width="1.3" />
<line x1="1377" y1="225" x2="1377" y2="414.3" stroke="#2f7a45" stroke-width="1.3" />
<line x1="1502.7" y1="476.5" x2="1502.7" y2="743.3" stroke="#2f7a45" stroke-width="1.3" />
<line x1="1636.7" y1="537.3" x2="1636.7" y2="598" stroke="#2f7a45" stroke-width="1.3" />
<line x1="682" y1="764.3" x2="682" y2="899.5" stroke="#2f7a45" stroke-width="1.3" />
<line x1="934" y1="757.5" x2="934" y2="892.5" stroke="#2f7a45" stroke-width="1.3" />
<line x1="1016.7" y1="757.5" x2="1016.7" y2="892.5" stroke="#2f7a45" stroke-width="1.3" />
<line x1="1122.2" y1="757.5" x2="1122.2" y2="892.5" stroke="#2f7a45" stroke-width="1.3" />
<line x1="1219" y1="776" x2="1219" y2="892.5" stroke="#2f7a45" stroke-width="1.3" />
<line x1="1429.2" y1="756" x2="1429.2" y2="892.5" stroke="#2f7a45" stroke-width="1.3" />
<line x1="1533.3" y1="758" x2="1533.3" y2="892.5" stroke="#2f7a45" stroke-width="1.3" />
<line x1="204" y1="835.2" x2="692" y2="835.2" stroke="#22a050" stroke-width="2" />
<polygon points="196,835.2 205.2,827 205.2,843.4" fill="#22a050"/>
<polygon points="700.8,835.2 691.6,827 691.6,843.4" fill="#22a050"/>
<line x1="1050" y1="833.8" x2="1538" y2="833.8" stroke="#22a050" stroke-width="2" />
<polygon points="1041.7,833.8 1050.9,825.6 1050.9,842" fill="#22a050"/>
<polygon points="1546.2,833.8 1537,825.6 1537,842" fill="#22a050"/>
<circle cx="1701.7" cy="246.7" r="53.3" fill="#f2ea3e"/>
<circle cx="1701.7" cy="246.7" r="15.8" fill="#ffffff"/>
<line x1="1558.8" y1="268.5" x2="1619.6" y2="256" stroke="#f2ea3e" stroke-width="6.6" />
<line x1="1577.5" y1="343" x2="1636.5" y2="298.8" stroke="#f2ea3e" stroke-width="6.6" />
<line x1="1642.5" y1="380.5" x2="1667.6" y2="326" stroke="#f2ea3e" stroke-width="6.6" />
<rect x="1792.7" y="648.9" width="20" height="4.3" fill="#1fa8e6" />
<rect x="1831.7" y="648.9" width="16.3" height="4.3" fill="#1fa8e6" />
<polygon points="1861.2,651 1846.8,638.6 1846.8,663.6" fill="#1fa8e6"/>
<line x1="1795" y1="709" x2="1859" y2="709" stroke="#ee8f74" stroke-width="2.0" />
<polyline points="1849.4,701 1859.1,709 1849.4,717" fill="none" stroke="#ee8f74" stroke-width="2.0" stroke-linejoin="miter"/>
<polyline points="1804.6,717 1794.9,709 1804.6,701" fill="none" stroke="#ee8f74" stroke-width="2.0" stroke-linejoin="miter"/>
<line x1="1793" y1="767.3" x2="1855.66" y2="767.3" stroke="#ea138b" stroke-width="2.6" stroke-linecap="round" stroke-dasharray="0.01 6.95"/>
<polyline points="1849.6,759.2 1859.4,767.3 1849.6,775.4" fill="none" stroke="#ea138b" stroke-width="2.1" stroke-linejoin="miter"/>
<text x="14" y="344.8" fill="#236b3c" stroke="#236b3c" stroke-width="0.3" font-size="17.8" text-anchor="start" >toekomstige woningbouw</text>
<text x="569.3" y="344.4" fill="#236b3c" stroke="#236b3c" stroke-width="0.3" font-size="17.8" text-anchor="start" >inpandige balkons met</text>
<text x="569.3" y="366" fill="#236b3c" stroke="#236b3c" stroke-width="0.3" font-size="17.8" text-anchor="start" >zicht op groene as</text>
<text x="826" y="286.6" fill="#236b3c" stroke="#236b3c" stroke-width="0.3" font-size="17.8" text-anchor="start" >dakterras</text>
<text x="983.5" y="215.5" fill="#236b3c" stroke="#236b3c" stroke-width="0.3" font-size="17.8" text-anchor="start" >prive terrassen op zon</text>
<text x="1099.5" y="286.6" fill="#236b3c" stroke="#236b3c" stroke-width="0.3" font-size="17.8" text-anchor="start" >galerij met zicht op parkeren</text>
<text x="1287.8" y="215.5" fill="#236b3c" stroke="#236b3c" stroke-width="0.3" font-size="17.8" text-anchor="start" >contour hoogteaccent</text>
<text x="1724" y="329" fill="#236b3c" stroke="#236b3c" stroke-width="0.3" font-size="17.8" text-anchor="start" >zonnig binnengebied</text>
<text x="1484.3" y="440.6" fill="#236b3c" stroke="#236b3c" stroke-width="0.3" font-size="17.8" text-anchor="start" >vrije ruimte tussen</text>
<text x="1484.3" y="462.3" fill="#236b3c" stroke="#236b3c" stroke-width="0.3" font-size="17.8" text-anchor="start" >de gebouwen</text>
<text x="1625" y="506.5" fill="#236b3c" stroke="#236b3c" stroke-width="0.3" font-size="17.8" text-anchor="start" >afschermen zicht en geluid</text>
<text x="1625" y="527.8" fill="#236b3c" stroke="#236b3c" stroke-width="0.3" font-size="17.8" text-anchor="start" >bestaande apparatuur op dak</text>
<text x="1889.3" y="658.5" fill="#236b3c" stroke="#236b3c" stroke-width="0.3" font-size="17.8" text-anchor="start" >veiligheid</text>
<text x="1889.3" y="714.4" fill="#236b3c" stroke="#236b3c" stroke-width="0.3" font-size="17.8" text-anchor="start" >verbinding</text>
<text x="1889.3" y="770" fill="#236b3c" stroke="#236b3c" stroke-width="0.3" font-size="17.8" text-anchor="start" >vrij zicht</text>
<text x="585.7" y="920.7" fill="#236b3c" stroke="#236b3c" stroke-width="0.3" font-size="17.8" text-anchor="start" >zitje en groen tegen gevel</text>
<text x="851" y="920.7" fill="#236b3c" stroke="#236b3c" stroke-width="0.3" font-size="17.8" text-anchor="start" >prive berging</text>
<text x="987.7" y="920.7" fill="#236b3c" stroke="#236b3c" stroke-width="0.3" font-size="17.8" text-anchor="start" >toegang</text>
<text x="1097.3" y="921.3" fill="#236b3c" stroke="#236b3c" stroke-width="0.3" font-size="17.8" text-anchor="start" >parkeren</text>
<text x="1186" y="920.7" fill="#236b3c" stroke="#236b3c" stroke-width="0.3" font-size="17.8" text-anchor="start" >halfopen bestrating</text>
<text x="1365.7" y="921.3" fill="#236b3c" stroke="#236b3c" stroke-width="0.3" font-size="17.8" text-anchor="start" >volwassen boom</text>
<text x="1517.3" y="920.7" fill="#236b3c" stroke="#236b3c" stroke-width="0.3" font-size="17.8" text-anchor="start" >nooduitgangen</text>
<text x="827.3" y="539.3" fill="#2aa455" stroke="#2aa455" stroke-width="0.3" font-size="17.8" text-anchor="start" >appartement</text>
<text x="826" y="642.3" fill="#2aa455" stroke="#2aa455" stroke-width="0.3" font-size="17.8" text-anchor="start" >appartement</text>
<text x="781.7" y="734.3" fill="#2aa455" stroke="#2aa455" stroke-width="0.3" font-size="17.8" text-anchor="start" >studio</text>
<text x="1599.3" y="713.3" fill="#ffffff" stroke="#ffffff" stroke-width="0.3" font-size="17.8" text-anchor="start" >supermarkt</text>
<text x="446.7" y="825.5" fill="#2aa455" stroke="#2aa455" stroke-width="0.3" font-size="17.8" text-anchor="middle" >15 m</text>
<text x="443.5" y="856.7" fill="#2aa455" stroke="#2aa455" stroke-width="0.3" font-size="17.8" text-anchor="middle" >groene as</text>
<text x="1314.5" y="824.7" fill="#2aa455" stroke="#2aa455" stroke-width="0.3" font-size="17.8" text-anchor="middle" >15 m</text>
<text x="1325.7" y="856.3" fill="#2aa455" stroke="#2aa455" stroke-width="0.3" font-size="17.8" text-anchor="middle" >groen binnengebied</text>
</svg></body></html>
